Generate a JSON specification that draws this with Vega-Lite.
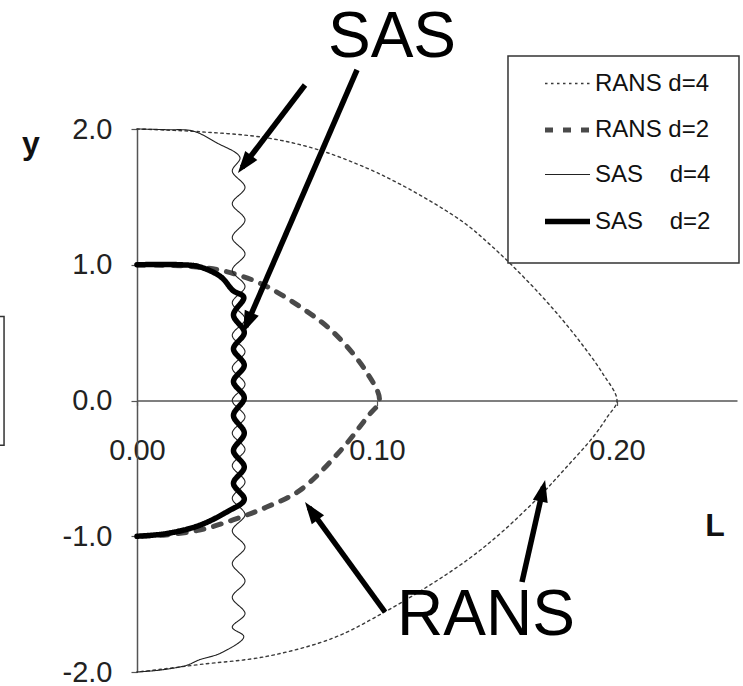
{
  "$schema": "https://vega.github.io/schema/vega-lite/v6.json",
  "width": 600,
  "height": 543,
  "autosize": {"type": "none"},
  "padding": {"left": 137, "top": 129, "right": 6, "bottom": 14},
  "background": "white",
  "config": {"view": {"stroke": null}, "font": "Liberation Sans"},
  "datasets": {
    "curves": [
      {"series": "RANS d=4", "i": 0, "L": 0, "y": 2.0},
      {"series": "RANS d=4", "i": 1, "L": 0.026, "y": 1.98},
      {"series": "RANS d=4", "i": 2, "L": 0.054, "y": 1.935},
      {"series": "RANS d=4", "i": 3, "L": 0.075, "y": 1.85},
      {"series": "RANS d=4", "i": 4, "L": 0.096, "y": 1.71},
      {"series": "RANS d=4", "i": 5, "L": 0.11, "y": 1.59},
      {"series": "RANS d=4", "i": 6, "L": 0.124, "y": 1.45},
      {"series": "RANS d=4", "i": 7, "L": 0.137, "y": 1.3},
      {"series": "RANS d=4", "i": 8, "L": 0.147, "y": 1.15},
      {"series": "RANS d=4", "i": 9, "L": 0.156, "y": 1.0},
      {"series": "RANS d=4", "i": 10, "L": 0.167, "y": 0.8},
      {"series": "RANS d=4", "i": 11, "L": 0.177, "y": 0.6},
      {"series": "RANS d=4", "i": 12, "L": 0.186, "y": 0.4},
      {"series": "RANS d=4", "i": 13, "L": 0.194, "y": 0.2},
      {"series": "RANS d=4", "i": 14, "L": 0.2, "y": 0.0},
      {"series": "RANS d=4", "i": 15, "L": 0.196, "y": -0.12},
      {"series": "RANS d=4", "i": 16, "L": 0.19, "y": -0.27},
      {"series": "RANS d=4", "i": 17, "L": 0.179, "y": -0.49},
      {"series": "RANS d=4", "i": 18, "L": 0.168, "y": -0.7},
      {"series": "RANS d=4", "i": 19, "L": 0.152, "y": -0.97},
      {"series": "RANS d=4", "i": 20, "L": 0.138, "y": -1.17},
      {"series": "RANS d=4", "i": 21, "L": 0.122, "y": -1.36},
      {"series": "RANS d=4", "i": 22, "L": 0.1025, "y": -1.565},
      {"series": "RANS d=4", "i": 23, "L": 0.0817, "y": -1.75},
      {"series": "RANS d=4", "i": 24, "L": 0.054, "y": -1.885},
      {"series": "RANS d=4", "i": 25, "L": 0.026, "y": -1.945},
      {"series": "RANS d=4", "i": 26, "L": 0.01, "y": -1.98},
      {"series": "RANS d=4", "i": 27, "L": 0, "y": -2.0},

      {"series": "RANS d=2", "i": 0, "L": 0, "y": 1.0},
      {"series": "RANS d=2", "i": 1, "L": 0.02, "y": 0.99},
      {"series": "RANS d=2", "i": 2, "L": 0.0346, "y": 0.96},
      {"series": "RANS d=2", "i": 3, "L": 0.051, "y": 0.866},
      {"series": "RANS d=2", "i": 4, "L": 0.068, "y": 0.69},
      {"series": "RANS d=2", "i": 5, "L": 0.082, "y": 0.5},
      {"series": "RANS d=2", "i": 6, "L": 0.096, "y": 0.2},
      {"series": "RANS d=2", "i": 7, "L": 0.101, "y": 0.0},
      {"series": "RANS d=2", "i": 8, "L": 0.096, "y": -0.12},
      {"series": "RANS d=2", "i": 9, "L": 0.085, "y": -0.365},
      {"series": "RANS d=2", "i": 10, "L": 0.068, "y": -0.66},
      {"series": "RANS d=2", "i": 11, "L": 0.054, "y": -0.785},
      {"series": "RANS d=2", "i": 12, "L": 0.04, "y": -0.88},
      {"series": "RANS d=2", "i": 13, "L": 0.026, "y": -0.955},
      {"series": "RANS d=2", "i": 14, "L": 0.012, "y": -0.99},
      {"series": "RANS d=2", "i": 15, "L": 0, "y": -1.0},

      {"series": "SAS d=4", "i": 0, "L": 0, "y": 2.0},
      {"series": "SAS d=4", "i": 1, "L": 0.012, "y": 1.995},
      {"series": "SAS d=4", "i": 2, "L": 0.0233, "y": 1.985},
      {"series": "SAS d=4", "i": 3, "L": 0.033, "y": 1.9},
      {"series": "SAS d=4", "i": 4, "L": 0.0429, "y": 1.79},
      {"series": "SAS d=4", "i": 5, "L": 0.0397, "y": 1.69},
      {"series": "SAS d=4", "i": 6, "L": 0.045, "y": 1.57},
      {"series": "SAS d=4", "i": 7, "L": 0.0397, "y": 1.45},
      {"series": "SAS d=4", "i": 8, "L": 0.045, "y": 1.33},
      {"series": "SAS d=4", "i": 9, "L": 0.0397, "y": 1.2},
      {"series": "SAS d=4", "i": 10, "L": 0.045, "y": 1.08},
      {"series": "SAS d=4", "i": 11, "L": 0.0397, "y": 0.96},
      {"series": "SAS d=4", "i": 12, "L": 0.045, "y": 0.84},
      {"series": "SAS d=4", "i": 13, "L": 0.0397, "y": 0.72},
      {"series": "SAS d=4", "i": 14, "L": 0.045, "y": 0.6},
      {"series": "SAS d=4", "i": 15, "L": 0.0397, "y": 0.48},
      {"series": "SAS d=4", "i": 16, "L": 0.045, "y": 0.36},
      {"series": "SAS d=4", "i": 17, "L": 0.0397, "y": 0.24},
      {"series": "SAS d=4", "i": 18, "L": 0.045, "y": 0.12},
      {"series": "SAS d=4", "i": 19, "L": 0.0397, "y": 0.0},
      {"series": "SAS d=4", "i": 20, "L": 0.045, "y": -0.12},
      {"series": "SAS d=4", "i": 21, "L": 0.0397, "y": -0.24},
      {"series": "SAS d=4", "i": 22, "L": 0.045, "y": -0.36},
      {"series": "SAS d=4", "i": 23, "L": 0.0397, "y": -0.48},
      {"series": "SAS d=4", "i": 24, "L": 0.045, "y": -0.6},
      {"series": "SAS d=4", "i": 25, "L": 0.0397, "y": -0.72},
      {"series": "SAS d=4", "i": 26, "L": 0.045, "y": -0.84},
      {"series": "SAS d=4", "i": 27, "L": 0.0397, "y": -0.96},
      {"series": "SAS d=4", "i": 28, "L": 0.045, "y": -1.08},
      {"series": "SAS d=4", "i": 29, "L": 0.0397, "y": -1.2},
      {"series": "SAS d=4", "i": 30, "L": 0.045, "y": -1.33},
      {"series": "SAS d=4", "i": 31, "L": 0.0397, "y": -1.45},
      {"series": "SAS d=4", "i": 32, "L": 0.045, "y": -1.57},
      {"series": "SAS d=4", "i": 33, "L": 0.0397, "y": -1.67},
      {"series": "SAS d=4", "i": 34, "L": 0.0445, "y": -1.74},
      {"series": "SAS d=4", "i": 35, "L": 0.035, "y": -1.86},
      {"series": "SAS d=4", "i": 36, "L": 0.026, "y": -1.91},
      {"series": "SAS d=4", "i": 37, "L": 0.0208, "y": -1.95},
      {"series": "SAS d=4", "i": 38, "L": 0.01, "y": -1.985},
      {"series": "SAS d=4", "i": 39, "L": 0, "y": -2.0},

      {"series": "SAS d=2", "i": 0, "L": 0, "y": 1.0},
      {"series": "SAS d=2", "i": 1, "L": 0.0179, "y": 1.0},
      {"series": "SAS d=2", "i": 2, "L": 0.026, "y": 0.985},
      {"series": "SAS d=2", "i": 3, "L": 0.035, "y": 0.91},
      {"series": "SAS d=2", "i": 4, "L": 0.04, "y": 0.81},
      {"series": "SAS d=2", "i": 5, "L": 0.0445, "y": 0.76},
      {"series": "SAS d=2", "i": 6, "L": 0.0402, "y": 0.63},
      {"series": "SAS d=2", "i": 7, "L": 0.0447, "y": 0.5},
      {"series": "SAS d=2", "i": 8, "L": 0.0402, "y": 0.38},
      {"series": "SAS d=2", "i": 9, "L": 0.0447, "y": 0.26},
      {"series": "SAS d=2", "i": 10, "L": 0.0402, "y": 0.14},
      {"series": "SAS d=2", "i": 11, "L": 0.0447, "y": 0.02},
      {"series": "SAS d=2", "i": 12, "L": 0.0402, "y": -0.11},
      {"series": "SAS d=2", "i": 13, "L": 0.0447, "y": -0.24},
      {"series": "SAS d=2", "i": 14, "L": 0.0402, "y": -0.37},
      {"series": "SAS d=2", "i": 15, "L": 0.0447, "y": -0.49},
      {"series": "SAS d=2", "i": 16, "L": 0.0402, "y": -0.61},
      {"series": "SAS d=2", "i": 17, "L": 0.0447, "y": -0.73},
      {"series": "SAS d=2", "i": 18, "L": 0.0375, "y": -0.82},
      {"series": "SAS d=2", "i": 19, "L": 0.026, "y": -0.92},
      {"series": "SAS d=2", "i": 20, "L": 0.0125, "y": -0.98},
      {"series": "SAS d=2", "i": 21, "L": 0, "y": -1.0}
    ],
    "frames": [
      {"name": "legend box", "L": 0.15458, "L2": 0.25083, "y": 2.538, "y2": 1.013},
      {"name": "edge box", "L": -0.07, "L2": -0.0554, "y": 0.618, "y2": -0.33}
    ],
    "arrows": [
      {"arrow": "A", "L": 0.07, "y": 2.324, "L2": 0.04383, "y2": 1.717},
      {"arrow": "B", "L": 0.09167, "y": 2.435, "L2": 0.04533, "y2": 0.5444},
      {"arrow": "C", "L": 0.10333, "y": -1.558, "L2": 0.07171, "y2": -0.7897},
      {"arrow": "D", "L": 0.16042, "y": -1.337, "L2": 0.1694, "y2": -0.6357}
    ],
    "notes": [
      {"label": "SAS", "L": 0.10625, "y": 2.53},
      {"label": "RANS", "L": 0.1454, "y": -1.727}
    ]
  },
  "encoding": {
    "x": {
      "field": "L",
      "type": "quantitative",
      "scale": {"domain": [0, 0.25], "nice": false, "zero": false},
      "axis": {
        "orient": "bottom",
        "offset": -271.5,
        "values": [0, 0.1, 0.2],
        "format": ".2f",
        "grid": false,
        "domainColor": "#555555",
        "domainWidth": 1.5,
        "tickColor": "#555555",
        "tickWidth": 1.2,
        "tickSize": 5,
        "labelFont": "Liberation Sans",
        "labelFontSize": 29,
        "labelColor": "#222222",
        "labelPadding": 31,
        "labelFlush": false,
        "labelOverlap": false,
        "title": "L",
        "titleFont": "Liberation Sans",
        "titleFontSize": 32,
        "titleFontWeight": "bold",
        "titleColor": "#111111",
        "titleX": 577.5,
        "titleY": 134.5,
        "titleAlign": "center",
        "titleBaseline": "alphabetic"
      }
    },
    "y": {
      "field": "y",
      "type": "quantitative",
      "scale": {"domain": [-2, 2], "nice": false, "zero": false},
      "axis": {
        "orient": "left",
        "values": [-2, -1, 0, 1, 2],
        "format": ".1f",
        "labelExpr": "replace(datum.label, '\u2212', '-')",
        "grid": false,
        "domainColor": "#555555",
        "domainWidth": 1.5,
        "tickColor": "#555555",
        "tickWidth": 1.2,
        "tickSize": 6,
        "labelFont": "Liberation Sans",
        "labelFontSize": 29,
        "labelColor": "#222222",
        "labelPadding": 19,
        "labelFlush": false,
        "labelOverlap": false,
        "title": "y",
        "titleFont": "Liberation Sans",
        "titleFontSize": 32,
        "titleFontWeight": "bold",
        "titleColor": "#111111",
        "titleAngle": 0,
        "titleX": -106.5,
        "titleY": 24,
        "titleAlign": "center",
        "titleBaseline": "alphabetic"
      }
    }
  },
  "layer": [
    {
      "data": {"name": "frames"},
      "mark": {"type": "rect", "filled": false, "stroke": "#333333", "strokeWidth": 1.5},
      "encoding": {
        "x2": {"field": "L2"},
        "y2": {"field": "y2"}
      }
    },
    {
      "data": {"name": "curves"},
      "mark": {"type": "line", "interpolate": "catmull-rom", "strokeCap": "round", "strokeJoin": "round"},
      "encoding": {
        "order": {"field": "i", "type": "quantitative"},
        "color": {
          "field": "series",
          "type": "nominal",
          "scale": {
            "domain": ["RANS d=4", "RANS d=2", "SAS d=4", "SAS d=2"],
            "range": ["#3a3a3a", "#4a4a4a", "#222222", "#000000"]
          },
          "legend": {
            "orient": "none",
            "legendX": 405,
            "legendY": -69,
            "title": null,
            "symbolType": "stroke",
            "symbolSize": 2025,
            "labelFont": "Liberation Sans",
            "labelFontSize": 24,
            "labelColor": "#111111",
            "labelOffset": 2,
            "rowPadding": 9,
            "padding": 0,
            "labelExpr": "replace(datum.label, 'SAS ', 'SAS\u00a0\u00a0\u00a0\u00a0')"
          }
        },
        "strokeDash": {
          "field": "series",
          "type": "nominal",
          "scale": {
            "domain": ["RANS d=4", "RANS d=2", "SAS d=4", "SAS d=2"],
            "range": [[2.5, 3.5], [8, 10], [1, 0], [1, 0]]
          }
        },
        "strokeWidth": {
          "field": "series",
          "type": "nominal",
          "scale": {
            "type": "ordinal",
            "domain": ["RANS d=4", "RANS d=2", "SAS d=4", "SAS d=2"],
            "range": [1.4, 5, 1.1, 5.5]
          }
        }
      }
    },
    {
      "data": {"name": "arrows"},
      "mark": {"type": "rule", "color": "#000000", "strokeWidth": 5.5, "strokeCap": "butt"},
      "encoding": {
        "x2": {"field": "L2"},
        "y2": {"field": "y2"}
      }
    },
    {
      "data": {"name": "arrows"},
      "mark": {
        "type": "point",
        "shape": "M0,-0.35 L0.38,0.75 L-0.38,0.75 Z",
        "filled": true,
        "color": "#000000",
        "opacity": 1,
        "size": 1600
      },
      "encoding": {
        "x": {"field": "L2", "type": "quantitative", "scale": {"domain": [0, 0.25], "nice": false, "zero": false}},
        "y": {"field": "y2", "type": "quantitative", "scale": {"domain": [-2, 2], "nice": false, "zero": false}},
        "angle": {
          "field": "arrow",
          "type": "nominal",
          "scale": {"type": "ordinal", "domain": ["A", "B", "C", "D"], "range": [-142.7, -156.6, -36.0, 12.7]},
          "legend": null
        }
      }
    },
    {
      "data": {"name": "notes"},
      "mark": {"type": "text", "font": "Liberation Sans", "fontSize": 64, "color": "#000000", "align": "center", "baseline": "alphabetic"},
      "encoding": {
        "text": {"field": "label"}
      }
    }
  ]
}
